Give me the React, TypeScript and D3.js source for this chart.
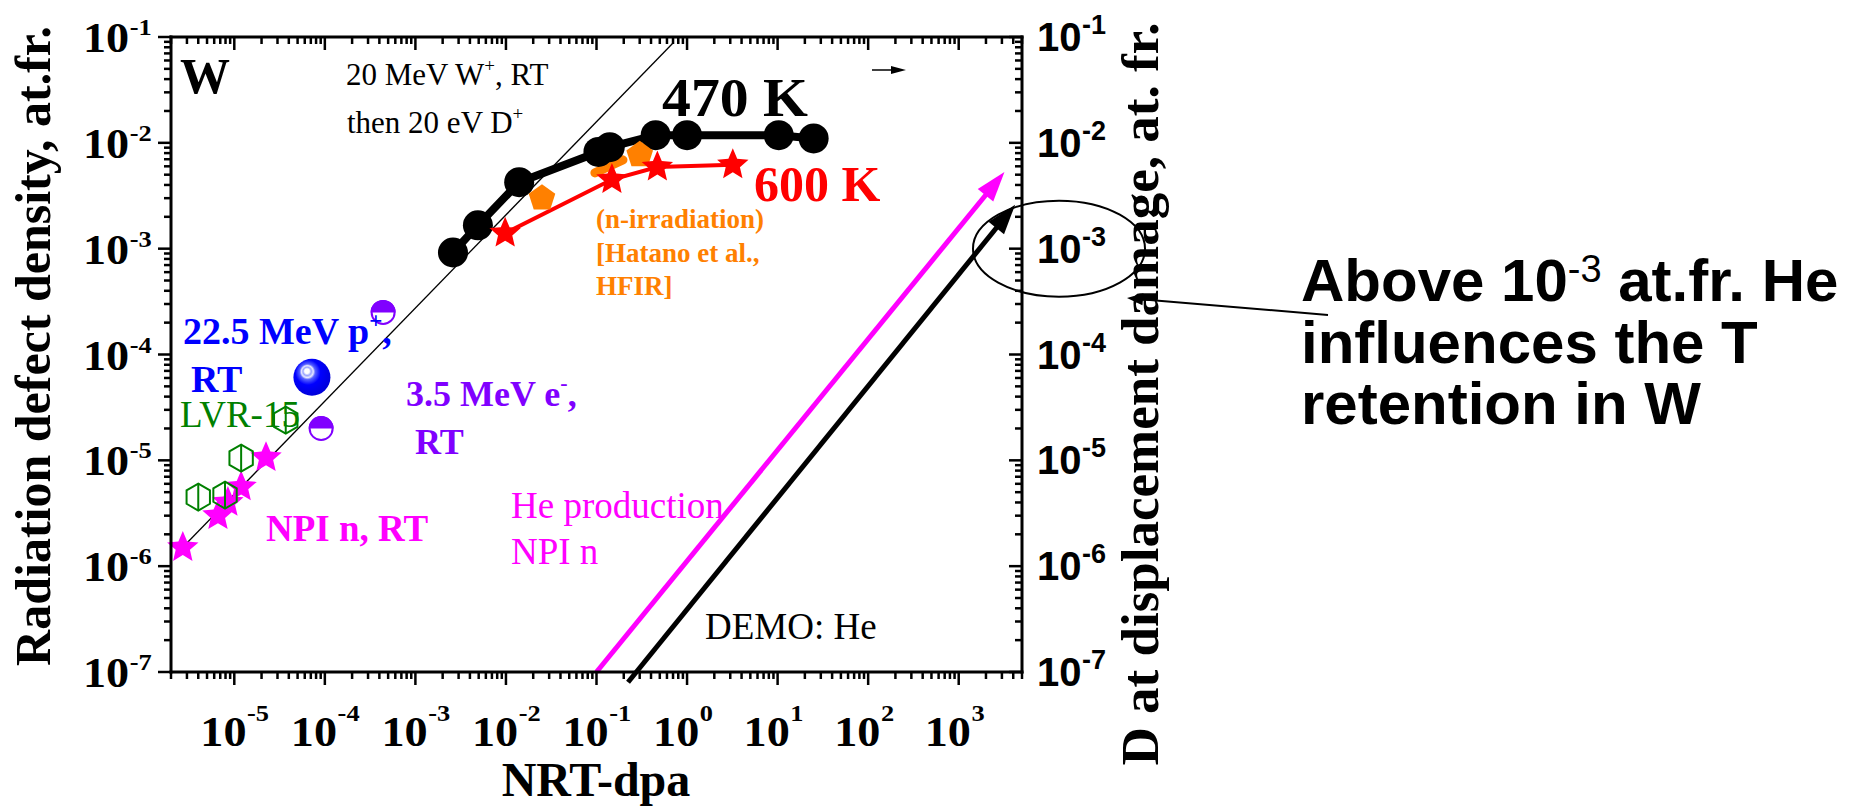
import React from "react";
import * as d3 from "d3";

const SERIF = "'Liberation Serif', 'Times New Roman', serif";
const SANS = "'Liberation Sans', Arial, sans-serif";

type Pt = [number, number];

// axis decades
const xTickExponents = [-5, -4, -3, -2, -1, 0, 1, 2, 3];
const yTickExponents = [-7, -6, -5, -4, -3, -2, -1];

// 20 MeV W+ damage, then 20 eV D+ : trapped D at 470 K
const w470K: Pt[] = [
  [2.6e-3, 9.2e-4], [4.9e-3, 1.66e-3], [1.4e-2, 4.25e-3], [0.105, 8.2e-3], [0.14, 9.1e-3],
  [0.45, 1.18e-2], [1.0, 1.18e-2], [10.3, 1.18e-2], [25, 1.1e-2],
];
// same, 600 K
const w600K: Pt[] = [[9.8e-3, 1.4e-3], [0.148, 4.5e-3], [0.47, 5.9e-3], [3.2, 6.2e-3]];
// HFIR neutron irradiation (Hatano et al.)
const hfirPoints: Pt[] = [[0.025, 3.0e-3], [0.3, 7.7e-3]];
const hfirSegment: Pt[] = [[0.096, 5.2e-3], [0.196, 6.9e-3]];
// NPI neutrons, RT
const npiPoints: Pt[] = [[2.7e-6, 1.5e-6], [6.6e-6, 3.0e-6], [8.5e-6, 4.0e-6], [1.19e-5, 5.6e-6], [2.24e-5, 1.06e-5]];
// LVR-15 reactor
const lvrPoints: Pt[] = [[4.0e-6, 4.5e-6], [7.9e-6, 4.7e-6], [1.19e-5, 1.05e-5], [3.7e-5, 2.4e-5]];
// 22.5 MeV protons, RT
const protonPoints: Pt[] = [[7.2e-5, 6.1e-5]];
// 3.5 MeV electrons, RT
const electronPoints: Pt[] = [[4.4e-4, 2.5e-4], [9.1e-5, 2.0e-5]];
// guide line through the low-dose data
const guideLine: Pt[] = [[2.4e-6, 1.36e-6], [0.7, 0.0877]];
// helium production lines
const heNPI: Pt[] = [[0.1, 1e-7], [3.2e3, 5.3e-3]];
const heDEMO: Pt[] = [[0.223, 8e-8], [4.2e3, 2.6e-3]];

const W = 1863;
const H = 806;
const M = { left: 171, right: 1022, top: 37, bottom: 672 };

const x = d3.scaleLog().domain([2e-6, 5e3]).range([M.left, M.right]);
const y = d3.scaleLog().domain([1e-7, 1e-1]).range([M.bottom, M.top]);

function logTicks(lo: number, hi: number) {
  const out: { v: number; major: boolean }[] = [];
  for (let e = Math.floor(Math.log10(lo)); e <= Math.ceil(Math.log10(hi)); e++) {
    for (let m = 1; m <= 9; m++) {
      const v = m * Math.pow(10, e);
      if (v >= lo * 0.9999 && v <= hi * 1.0001) out.push({ v, major: m === 1 });
    }
  }
  return out;
}
const xTicks = logTicks(2e-6, 5e3);
const yTicks = logTicks(1e-7, 1e-1);

function starPath(R: number, r: number) {
  const pts: string[] = [];
  for (let i = 0; i < 10; i++) {
    const a = -Math.PI / 2 + (i * Math.PI) / 5;
    const rad = i % 2 === 0 ? R : r;
    pts.push(`${(rad * Math.cos(a)).toFixed(2)},${(rad * Math.sin(a)).toFixed(2)}`);
  }
  return "M" + pts.join("L") + "Z";
}
function polyPath(n: number, R: number) {
  const pts: string[] = [];
  for (let i = 0; i < n; i++) {
    const a = -Math.PI / 2 + (i * 2 * Math.PI) / n;
    pts.push(`${(R * Math.cos(a)).toFixed(2)},${(R * Math.sin(a)).toFixed(2)}`);
  }
  return "M" + pts.join("L") + "Z";
}
const STAR = starPath(16.5, 7.5);
const PENTAGON = polyPath(5, 14);
const HEXAGON = polyPath(6, 13.5);

const line = d3.line<Pt>().x((d) => x(d[0])).y((d) => y(d[1]));

function Arrow(props: { x1: number; y1: number; x2: number; y2: number; color: string; width: number; head: number; half: number }) {
  const { x1, y1, x2, y2, color, width, head, half } = props;
  const dx = x2 - x1;
  const dy = y2 - y1;
  const len = Math.hypot(dx, dy);
  const ux = dx / len;
  const uy = dy / len;
  const bx = x2 - ux * head;
  const by = y2 - uy * head;
  const px = -uy;
  const py = ux;
  return (
    <g>
      <line x1={x1} y1={y1} x2={bx + ux * 2} y2={by + uy * 2} stroke={color} strokeWidth={width} />
      <polygon
        points={`${x2},${y2} ${bx + px * half},${by + py * half} ${bx - px * half},${by - py * half}`}
        fill={color}
      />
    </g>
  );
}

function DataArrow({ pts, color }: { pts: Pt[]; color: string }) {
  const [a, b] = pts;
  return <Arrow x1={x(a[0])} y1={y(a[1])} x2={x(b[0])} y2={y(b[1])} color={color} width={5} head={30} half={10} />;
}

const LABEL_STRETCH = 1.1;

export default function App() {
  return (
    <svg
      width={W}
      height={H}
      viewBox={`0 0 ${W} ${H}`}
      style={{ position: "absolute", left: 0, top: 0, background: "#fff" }}
    >
      <defs>
        <radialGradient id="sphere" cx="0.42" cy="0.4" r="0.62" fx="0.36" fy="0.33">
          <stop offset="0" stopColor="#ffffff" />
          <stop offset="0.1" stopColor="#ffffff" />
          <stop offset="0.18" stopColor="#9aa4ff" />
          <stop offset="0.26" stopColor="#e6e8ff" />
          <stop offset="0.34" stopColor="#5560ff" />
          <stop offset="0.55" stopColor="#0000ff" />
          <stop offset="1" stopColor="#0000d8" />
        </radialGradient>
      </defs>

      {/* guide line */}
      <path d={line(guideLine) || ""} stroke="#000" strokeWidth={1.3} fill="none" />

      {/* helium production arrows */}
      <DataArrow pts={heNPI} color="#ff00ff" />
      <DataArrow pts={heDEMO} color="#000" />

      {/* HFIR segment */}
      <path d={line(hfirSegment) || ""} stroke="#ff8000" strokeWidth={9} strokeLinecap="round" fill="none" />

      {/* 600 K */}
      <path d={line(w600K) || ""} stroke="#ff0000" strokeWidth={4} fill="none" />
      {/* 470 K */}
      <path d={line(w470K) || ""} stroke="#000" strokeWidth={8} fill="none" />
      {w470K.map((d, i) => (
        <circle key={"b" + i} cx={x(d[0])} cy={y(d[1])} r={15} fill="#000" />
      ))}
      {hfirPoints.map((d, i) => (
        <path key={"o" + i} d={PENTAGON} transform={`translate(${x(d[0])},${y(d[1])})`} fill="#ff8000" />
      ))}
      {w600K.map((d, i) => (
        <path key={"r" + i} d={STAR} transform={`translate(${x(d[0])},${y(d[1])})`} fill="#ff0000" />
      ))}

      {/* low-dose data */}
      {npiPoints.map((d, i) => (
        <path key={"m" + i} d={STAR} transform={`translate(${x(d[0])},${y(d[1])})`} fill="#ff00ff" />
      ))}
      {lvrPoints.map((d, i) => (
        <g key={"g" + i} transform={`translate(${x(d[0])},${y(d[1])})`} fill="none" stroke="#008000" strokeWidth={2}>
          <path d={HEXAGON} />
          <line x1={0} y1={-13.5} x2={0} y2={13.5} />
        </g>
      ))}
      {protonPoints.map((d, i) => (
        <circle key={"p" + i} cx={x(d[0])} cy={y(d[1])} r={18.5} fill="url(#sphere)" />
      ))}
      {electronPoints.map((d, i) => (
        <g key={"e" + i} transform={`translate(${x(d[0])},${y(d[1])})`}>
          <circle r={11.5} fill="#fff" stroke="#8000ff" strokeWidth={2} />
          <path d="M-12.5,0A12.5,12.5 0 0 1 12.5,0Z" fill="#8000ff" />
        </g>
      ))}

      {/* frame */}
      <g stroke="#000" strokeWidth={3} strokeLinecap="square">
        <line x1={M.left} y1={M.top} x2={M.right} y2={M.top} />
        <line x1={M.left} y1={M.bottom} x2={M.right} y2={M.bottom} />
        <line x1={M.left} y1={M.top} x2={M.left} y2={M.bottom} />
        <line x1={M.right} y1={M.top} x2={M.right} y2={M.bottom} />
      </g>
      <g stroke="#000" strokeWidth={2.5}>
        {xTicks.map((t, i) => {
          const px = x(t.v);
          const len = t.major ? 13 : 7;
          return (
            <g key={"xt" + i}>
              <line x1={px} x2={px} y1={M.bottom} y2={M.bottom + len} />
              <line x1={px} x2={px} y1={M.top} y2={M.top + len} />
            </g>
          );
        })}
        {yTicks.map((t, i) => {
          const py = y(t.v);
          const len = t.major ? 13 : 7;
          return (
            <g key={"yt" + i}>
              <line x1={M.left - len} x2={M.left} y1={py} y2={py} />
              <line x1={M.right - len} x2={M.right} y1={py} y2={py} />
            </g>
          );
        })}
      </g>

      {/* left tick labels */}
      {yTickExponents.map((e) => (
        <g key={"yl" + e} transform={`translate(83,${y(Math.pow(10, e)) + 15}) scale(${LABEL_STRETCH},1)`}
          fontFamily={SERIF} fontWeight="bold">
          <text x={0} y={0} fontSize={42}>10</text>
          <text x={42.5} y={-17} fontSize={24}>{String(e)}</text>
        </g>
      ))}
      {/* bottom tick labels */}
      {xTickExponents.map((e) => (
        <g key={"xl" + e} transform={`translate(${x(Math.pow(10, e)) - 34},746) scale(${LABEL_STRETCH},1)`}
          fontFamily={SERIF} fontWeight="bold">
          <text x={0} y={0} fontSize={42}>10</text>
          <text x={42.5} y={-25} fontSize={24}>{String(e)}</text>
        </g>
      ))}
      {/* right tick labels */}
      {yTickExponents.map((e) => (
        <g key={"yr" + e} transform={`translate(1037,${y(Math.pow(10, e)) + 14})`} fontFamily={SANS} fontWeight="bold">
          <text x={0} y={0} fontSize={40}>10</text>
          <text x={45} y={-17} fontSize={27}>{String(e)}</text>
        </g>
      ))}

      {/* axis titles */}
      <text transform="translate(50,346) rotate(-90)" textAnchor="middle" fontFamily={SERIF} fontWeight="bold" fontSize={50}>
        Radiation defect density, at.fr.
      </text>
      <text x={596} y={796} textAnchor="middle" fontFamily={SERIF} fontWeight="bold" fontSize={48}>
        NRT-dpa
      </text>
      <text transform="translate(1158,394) rotate(-90)" textAnchor="middle" fontFamily={SERIF} fontWeight="bold" fontSize={53}>
        D at displacement damage, at. fr.
      </text>

      {/* in-plot annotations */}
      <g fontFamily={SERIF}>
        <text x={180} y={93} fontSize={50} fontWeight="bold">W</text>
        <text x={346} y={85} fontSize={31}>
          20 MeV W<tspan dy={-13} fontSize={19}>+</tspan><tspan dy={13}>, RT</tspan>
        </text>
        <text x={347} y={133} fontSize={31}>
          then 20 eV D<tspan dy={-13} fontSize={19}>+</tspan>
        </text>
        <text x={662} y={116} fontSize={54} fontWeight="bold" textLength={146} lengthAdjust="spacingAndGlyphs">470 K</text>
        <text x={754} y={201} fontSize={50} fontWeight="bold" fill="#ff0000">600 K</text>
        <g fontSize={27} fontWeight="bold" fill="#ff8000">
          <text x={596} y={228}>(n-irradiation)</text>
          <text x={596} y={262}>[Hatano et al.,</text>
          <text x={596} y={295}>HFIR]</text>
        </g>
        <g fontSize={38} fontWeight="bold" fill="#0000ff">
          <text x={183} y={344}>
            22.5 MeV p<tspan dy={-16} fontSize={23}>+</tspan><tspan dy={16}>,</tspan>
          </text>
          <text x={191} y={392}>RT</text>
        </g>
        <text x={180} y={427} fontSize={37} fill="#008000">LVR-15</text>
        <g fontSize={36} fontWeight="bold" fill="#8000ff">
          <text x={406} y={406}>
            3.5 MeV e<tspan dy={-16} fontSize={22}>-</tspan><tspan dy={16}>,</tspan>
          </text>
          <text x={415} y={454}>RT</text>
        </g>
        <text x={266} y={541} fontSize={37} fontWeight="bold" fill="#ff00ff">NPI n, RT</text>
        <g fontSize={37} fill="#ff00ff">
          <text x={511} y={518}>He production</text>
          <text x={511} y={564}>NPI n</text>
        </g>
        <text x={705} y={639} fontSize={37}>DEMO: He</text>
      </g>

      {/* small direction arrow */}
      <Arrow x1={872} y1={70} x2={906} y2={70} color="#000" width={1.5} head={15} half={4} />

      {/* threshold callout */}
      <ellipse cx={M.right + 37} cy={y(1e-3)} rx={86} ry={48} fill="none" stroke="#000" strokeWidth={2} />
      <Arrow x1={1328} y1={315} x2={1127} y2={298} color="#000" width={2} head={16} half={6} />
      <g fontFamily={SANS} fontWeight="bold" fontSize={60}>
        <text x={1301} y={301}>
          Above 10<tspan dy={-19} fontSize={38} fontWeight="normal">-3</tspan><tspan dy={19}> at.fr. He</tspan>
        </text>
        <text x={1301} y={363}>influences the T</text>
        <text x={1301} y={424}>retention in W</text>
      </g>
    </svg>
  );
}
